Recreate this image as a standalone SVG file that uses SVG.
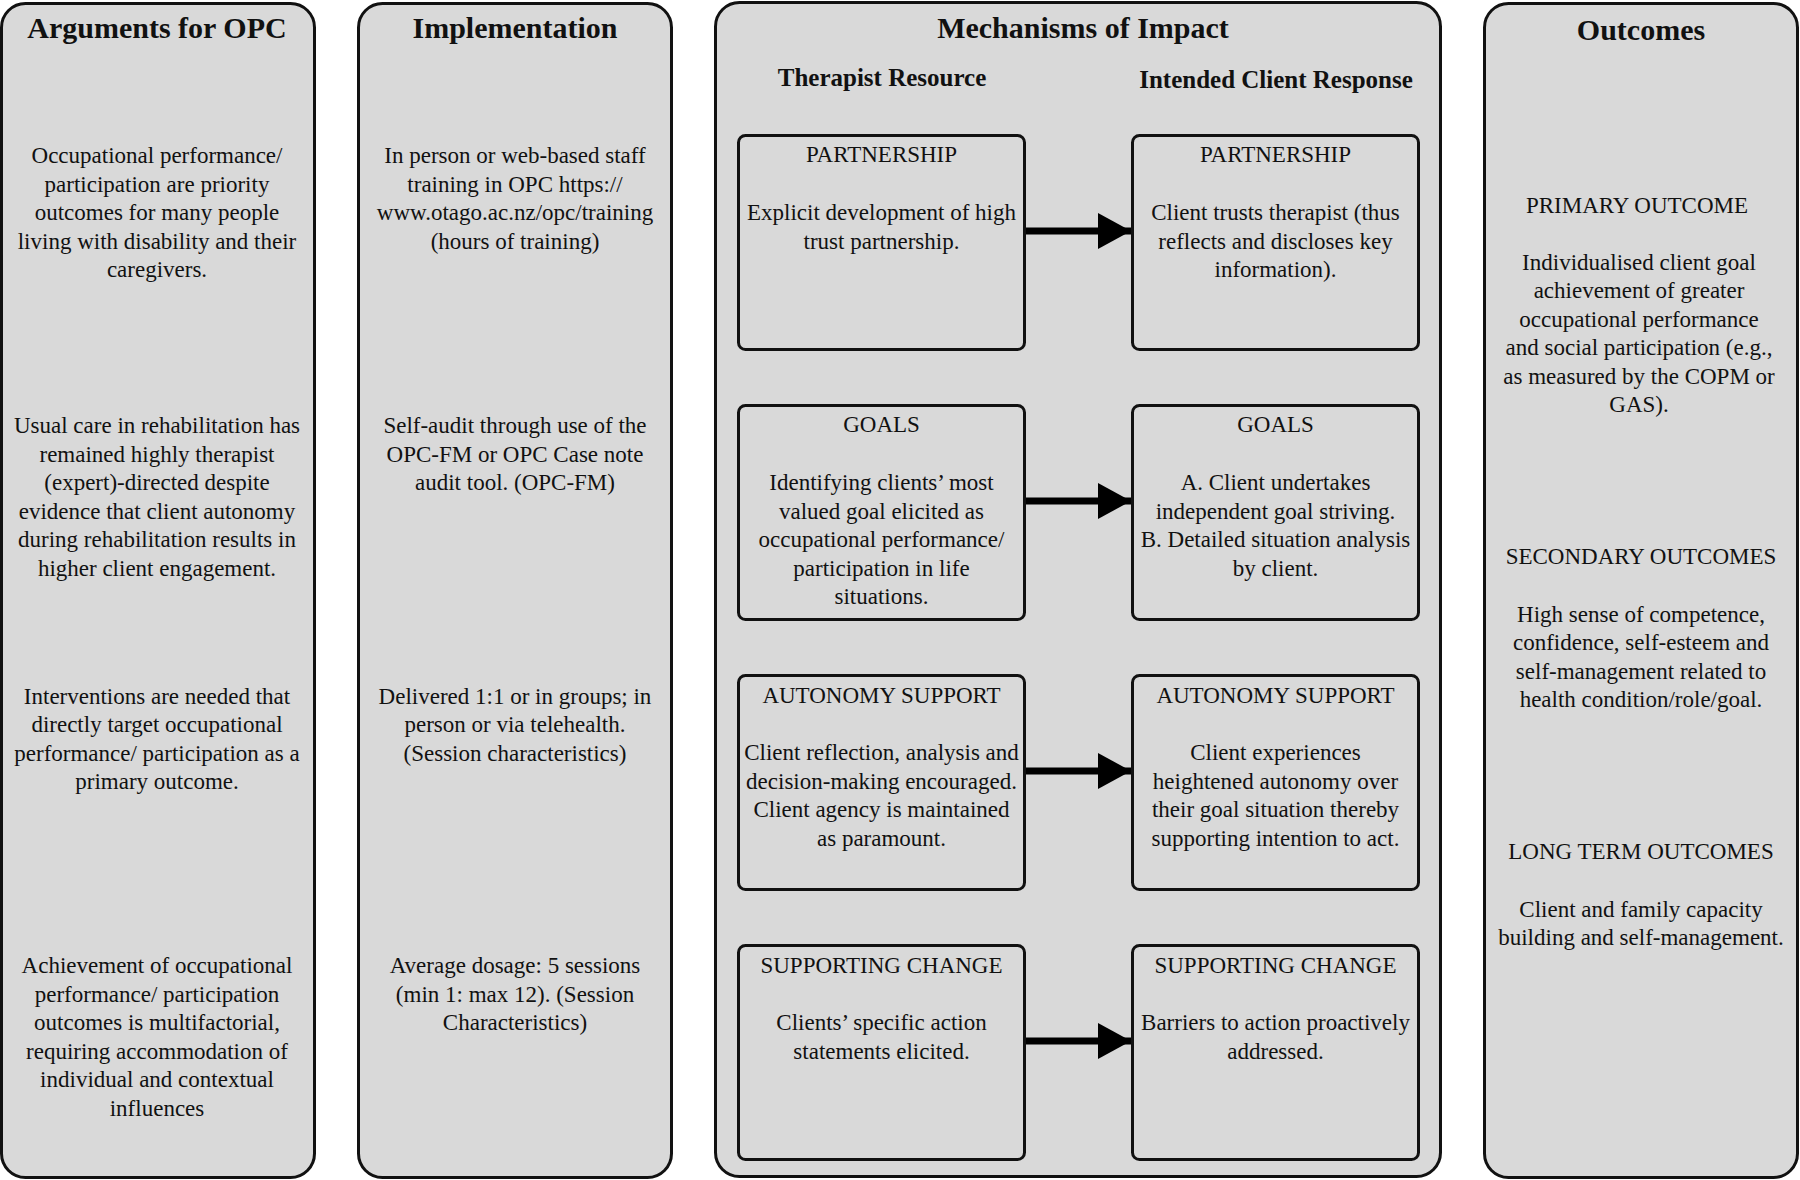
<svg xmlns="http://www.w3.org/2000/svg" width="1800" height="1180" viewBox="0 0 1800 1180">
<defs>
<style>
.col{fill:#d9d9d9;stroke:#111;stroke-width:3}
.box{fill:#d9d9d9;stroke:#111;stroke-width:3}
text{font-family:"Liberation Serif","Times New Roman",serif;fill:#111;text-anchor:middle}
.t{font-size:30px;font-weight:bold}
.s{font-size:25px;font-weight:bold}
.b{font-size:23px}
.arr{stroke:#000;stroke-width:7;fill:none}
</style>
<marker id="ah" viewBox="0 0 33 36" refX="33" refY="18" markerWidth="33" markerHeight="36" markerUnits="userSpaceOnUse" orient="auto">
<path d="M0,0 L33,18 L0,36 z" fill="#000"/>
</marker>
</defs>
<rect width="1800" height="1180" fill="#fff"/>

<g id="col-arguments">
<rect class="col" x="1.5" y="3.5" width="313" height="1174" rx="24"/>
<text class="t" x="157" y="38">Arguments for OPC</text>
<text class="b" x="157" y="163">Occupational performance/</text>
<text class="b" x="157" y="192">participation are priority</text>
<text class="b" x="157" y="220">outcomes for many people</text>
<text class="b" x="157" y="249">living with disability and their</text>
<text class="b" x="157" y="277">caregivers.</text>
<text class="b" x="157" y="433">Usual care in rehabilitation has</text>
<text class="b" x="157" y="462">remained highly therapist</text>
<text class="b" x="157" y="490">(expert)-directed despite</text>
<text class="b" x="157" y="519">evidence that client autonomy</text>
<text class="b" x="157" y="547">during rehabilitation results in</text>
<text class="b" x="157" y="576">higher client engagement.</text>
<text class="b" x="157" y="704">Interventions are needed that</text>
<text class="b" x="157" y="732">directly target occupational</text>
<text class="b" x="157" y="761">performance/ participation as a</text>
<text class="b" x="157" y="789">primary outcome.</text>
<text class="b" x="157" y="973">Achievement of occupational</text>
<text class="b" x="157" y="1002">performance/ participation</text>
<text class="b" x="157" y="1030">outcomes is multifactorial,</text>
<text class="b" x="157" y="1059">requiring accommodation of</text>
<text class="b" x="157" y="1087">individual and contextual</text>
<text class="b" x="157" y="1116">influences</text>
</g>

<g id="col-implementation">
<rect class="col" x="358.5" y="3.5" width="313" height="1174" rx="24"/>
<text class="t" x="515" y="38">Implementation</text>
<text class="b" x="515" y="163">In person or web-based staff</text>
<text class="b" x="515" y="192">training in OPC https://</text>
<text class="b" x="515" y="220">www.otago.ac.nz/opc/training</text>
<text class="b" x="515" y="249">(hours of training)</text>
<text class="b" x="515" y="433">Self-audit through use of the</text>
<text class="b" x="515" y="462">OPC-FM or OPC Case note</text>
<text class="b" x="515" y="490">audit tool. (OPC-FM)</text>
<text class="b" x="515" y="704">Delivered 1:1 or in groups; in</text>
<text class="b" x="515" y="732">person or via telehealth.</text>
<text class="b" x="515" y="761">(Session characteristics)</text>
<text class="b" x="515" y="973">Average dosage: 5 sessions</text>
<text class="b" x="515" y="1002">(min 1: max 12). (Session</text>
<text class="b" x="515" y="1030">Characteristics)</text>
</g>

<g id="col-mechanisms">
<rect class="col" x="715.5" y="2.5" width="725" height="1174" rx="24"/>
<text class="t" x="1083" y="38">Mechanisms of Impact</text>
<text class="s" x="882" y="86">Therapist Resource</text>
<text class="s" x="1276" y="88">Intended Client Response</text>
</g>

<g id="tr-partnership">
<rect class="box" x="738.5" y="135.5" width="286" height="214" rx="7"/>
<text class="b" x="881.5" y="162">PARTNERSHIP</text>
<text class="b" x="881.5" y="220">Explicit development of high</text>
<text class="b" x="881.5" y="249">trust partnership.</text>
</g>
<g id="cr-partnership">
<rect class="box" x="1132.5" y="135.5" width="286" height="214" rx="7"/>
<text class="b" x="1275.5" y="162">PARTNERSHIP</text>
<text class="b" x="1275.5" y="220">Client trusts therapist (thus</text>
<text class="b" x="1275.5" y="249">reflects and discloses key</text>
<text class="b" x="1275.5" y="277">information).</text>
</g>

<g id="tr-goals">
<rect class="box" x="738.5" y="405.5" width="286" height="214" rx="7"/>
<text class="b" x="881.5" y="432">GOALS</text>
<text class="b" x="881.5" y="490">Identifying clients’ most</text>
<text class="b" x="881.5" y="519">valued goal elicited as</text>
<text class="b" x="881.5" y="547">occupational performance/</text>
<text class="b" x="881.5" y="576">participation in life</text>
<text class="b" x="881.5" y="604">situations.</text>
</g>
<g id="cr-goals">
<rect class="box" x="1132.5" y="405.5" width="286" height="214" rx="7"/>
<text class="b" x="1275.5" y="432">GOALS</text>
<text class="b" x="1275.5" y="490">A. Client undertakes</text>
<text class="b" x="1275.5" y="519">independent goal striving.</text>
<text class="b" x="1275.5" y="547">B. Detailed situation analysis</text>
<text class="b" x="1275.5" y="576">by client.</text>
</g>

<g id="tr-autonomy">
<rect class="box" x="738.5" y="675.5" width="286" height="214" rx="7"/>
<text class="b" x="881.5" y="703">AUTONOMY SUPPORT</text>
<text class="b" x="881.5" y="760">Client reflection, analysis and</text>
<text class="b" x="881.5" y="789">decision-making encouraged.</text>
<text class="b" x="881.5" y="817">Client agency is maintained</text>
<text class="b" x="881.5" y="846">as paramount.</text>
</g>
<g id="cr-autonomy">
<rect class="box" x="1132.5" y="675.5" width="286" height="214" rx="7"/>
<text class="b" x="1275.5" y="703">AUTONOMY SUPPORT</text>
<text class="b" x="1275.5" y="760">Client experiences</text>
<text class="b" x="1275.5" y="789">heightened autonomy over</text>
<text class="b" x="1275.5" y="817">their goal situation thereby</text>
<text class="b" x="1275.5" y="846">supporting intention to act.</text>
</g>

<g id="tr-supporting">
<rect class="box" x="738.5" y="945.5" width="286" height="214" rx="7"/>
<text class="b" x="881.5" y="973">SUPPORTING CHANGE</text>
<text class="b" x="881.5" y="1030">Clients’ specific action</text>
<text class="b" x="881.5" y="1059">statements elicited.</text>
</g>
<g id="cr-supporting">
<rect class="box" x="1132.5" y="945.5" width="286" height="214" rx="7"/>
<text class="b" x="1275.5" y="973">SUPPORTING CHANGE</text>
<text class="b" x="1275.5" y="1030">Barriers to action proactively</text>
<text class="b" x="1275.5" y="1059">addressed.</text>
</g>

<g id="col-outcomes">
<rect class="col" x="1484.5" y="3.5" width="313" height="1174" rx="24"/>
<text class="t" x="1641" y="40">Outcomes</text>
<text class="b" x="1637" y="213">PRIMARY OUTCOME</text>
<text class="b" x="1639" y="270">Individualised client goal</text>
<text class="b" x="1639" y="298">achievement of greater</text>
<text class="b" x="1639" y="327">occupational performance</text>
<text class="b" x="1639" y="355">and social participation (e.g.,</text>
<text class="b" x="1639" y="384">as measured by the COPM or</text>
<text class="b" x="1639" y="412">GAS).</text>
<text class="b" x="1641" y="564">SECONDARY OUTCOMES</text>
<text class="b" x="1641" y="622">High sense of competence,</text>
<text class="b" x="1641" y="650">confidence, self-esteem and</text>
<text class="b" x="1641" y="679">self-management related to</text>
<text class="b" x="1641" y="707">health condition/role/goal.</text>
<text class="b" x="1641" y="859">LONG TERM OUTCOMES</text>
<text class="b" x="1641" y="917">Client and family capacity</text>
<text class="b" x="1641" y="945">building and self-management.</text>
</g>

<g id="connectors">
<line class="arr" x1="1026" y1="231" x2="1131" y2="231" marker-end="url(#ah)"/>
<line class="arr" x1="1026" y1="501" x2="1131" y2="501" marker-end="url(#ah)"/>
<line class="arr" x1="1026" y1="771" x2="1131" y2="771" marker-end="url(#ah)"/>
<line class="arr" x1="1026" y1="1041" x2="1131" y2="1041" marker-end="url(#ah)"/>
</g>
</svg>
